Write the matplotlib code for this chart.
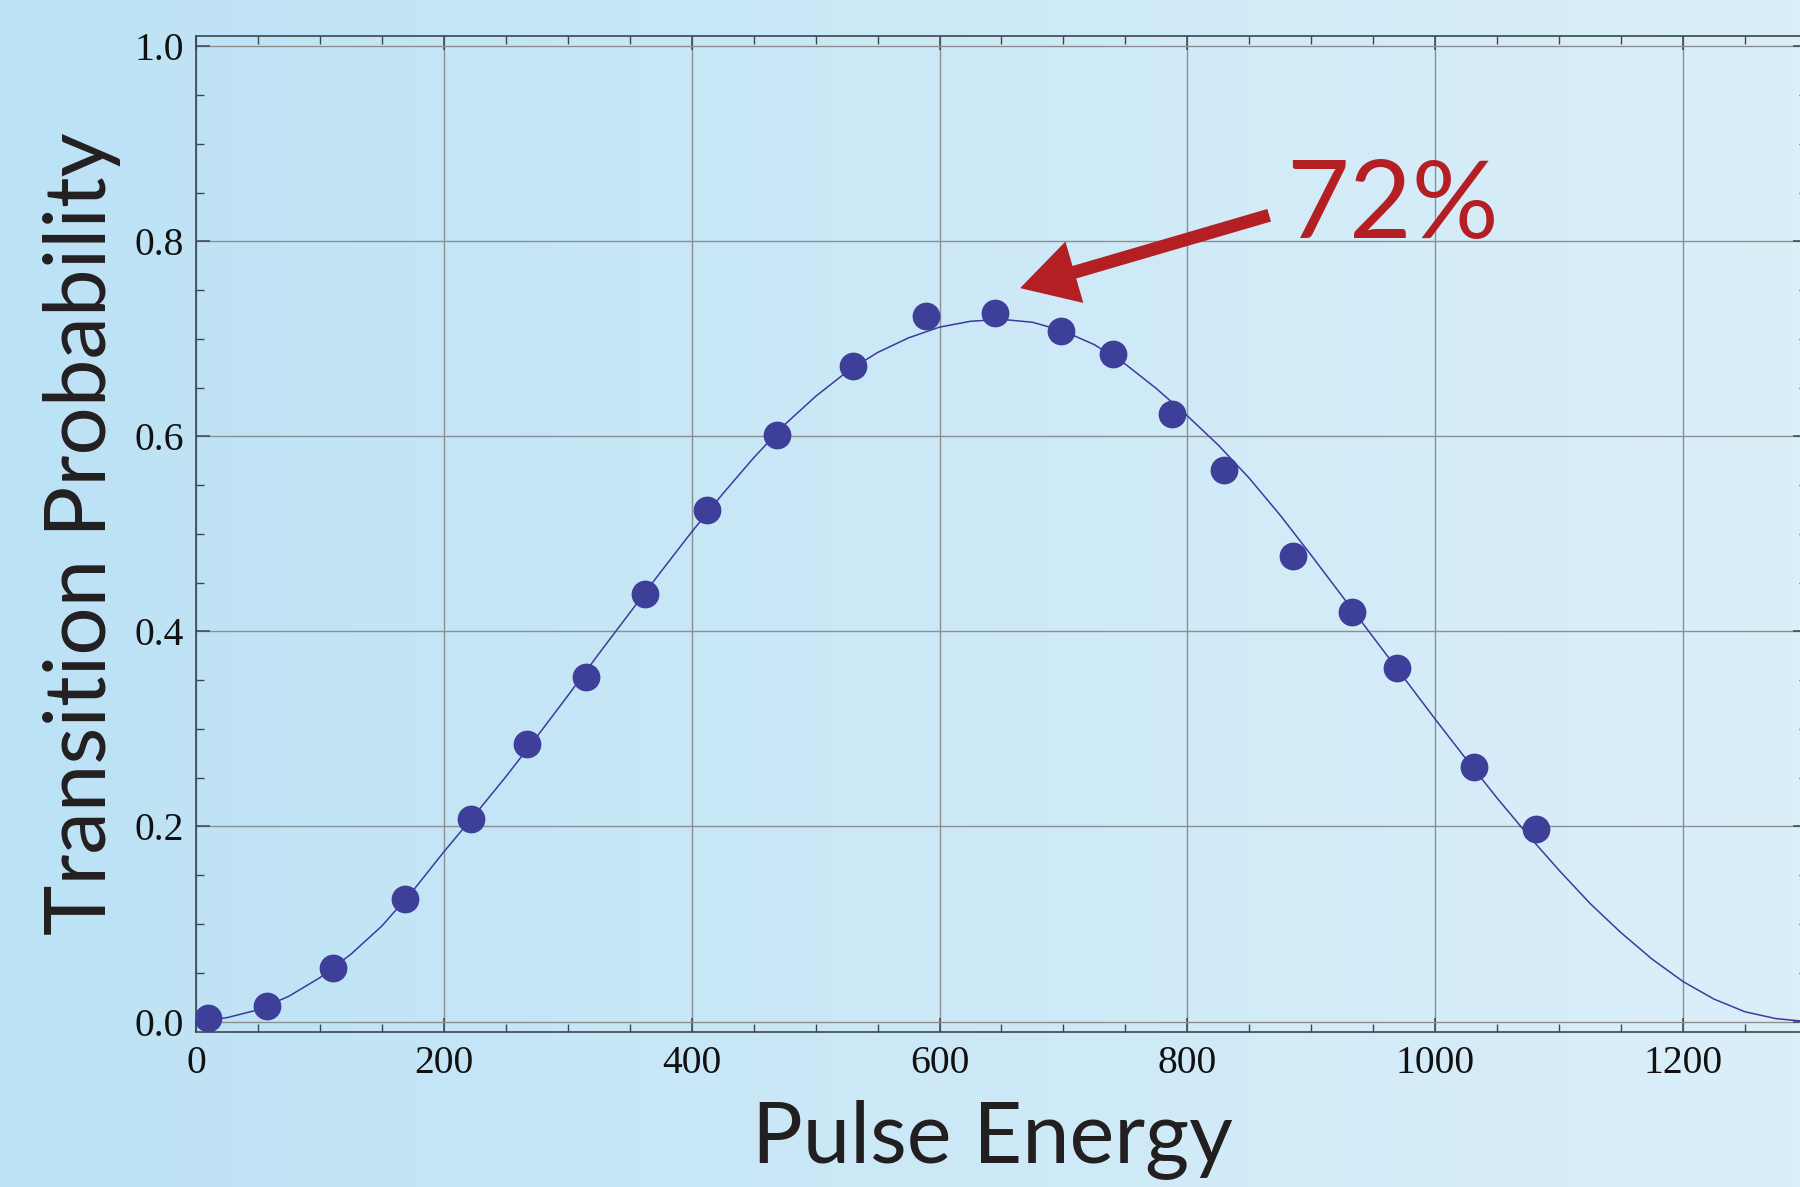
import numpy as np
import matplotlib
matplotlib.use("Agg")
import matplotlib.pyplot as plt
from matplotlib.ticker import MultipleLocator, FormatStrFormatter
from matplotlib.colors import LinearSegmentedColormap

# ---- data ----
energy = [10, 57, 110.5, 169, 222, 267, 315, 362, 412.5, 468.5, 530, 589,
          645, 698, 740, 787.5, 829.5, 885.5, 933, 969.5, 1031, 1081]
probability = [0.004, 0.016, 0.055, 0.126, 0.208, 0.285, 0.353, 0.438, 0.524,
               0.601, 0.672, 0.723, 0.726, 0.708, 0.684, 0.623, 0.566, 0.477,
               0.420, 0.363, 0.261, 0.197]

fit_energy = [0, 25, 50, 75, 100, 125, 150, 175, 200, 225, 250, 275, 300, 325,
              350, 375, 400, 425, 450, 475, 500, 525, 550, 575, 600, 625, 650,
              675, 700, 725, 750, 775, 800, 825, 850, 875, 900, 925, 950, 975,
              1000, 1025, 1050, 1075, 1100, 1125, 1150, 1175, 1200, 1225, 1250,
              1275, 1300]
fit_probability = [0.000, 0.004, 0.012, 0.026, 0.045, 0.069, 0.098, 0.134,
                   0.174, 0.212, 0.251, 0.292, 0.334, 0.377, 0.419, 0.461,
                   0.502, 0.541, 0.578, 0.612, 0.641, 0.666, 0.686, 0.701,
                   0.712, 0.718, 0.720, 0.717, 0.708, 0.694, 0.674, 0.649,
                   0.621, 0.591, 0.557, 0.519, 0.478, 0.436, 0.394, 0.352,
                   0.310, 0.269, 0.229, 0.191, 0.155, 0.121, 0.091, 0.064,
                   0.041, 0.023, 0.010, 0.003, 0.000]

x_ticks = [0, 200, 400, 600, 800, 1000, 1200]
y_ticks = [0.0, 0.2, 0.4, 0.6, 0.8, 1.0]

annot_text = "72%"
annot_tip = (665, 0.752)
annot_tail = (866, 0.8267)
annot_text_pos = (880, 0.8035)

# ---- figure ----
W, H = 1800, 1187
fig = plt.figure(figsize=(W / 100, H / 100), dpi=100)

# background gradient
bg = fig.add_axes([0, 0, 1, 1], zorder=-10)
cmap = LinearSegmentedColormap.from_list("bg", ["#bce2f5", "#dbeff9"])
grad = np.linspace(0, 1, 256)[None, :]
bg.imshow(grad, aspect="auto", cmap=cmap, extent=[0, 1, 0, 1])
bg.axis("off")

left_px, right_px, top_px, bottom_px = 196, 1807, 36, 1031.5
ax = fig.add_axes([left_px / W, 1 - bottom_px / H,
                   (right_px - left_px) / W, (bottom_px - top_px) / H])
ax.set_facecolor("none")

ax.set_xlim(0, 1300)
ax.set_ylim(-0.0102, 1.0105)

ax.grid(True, which="major", color="#8b8f92", lw=1.0, zorder=1)
ax.set_axisbelow(True)

line_col = "#3a3c9c"
ax.plot(fit_energy, fit_probability, color=line_col, lw=1.1, zorder=3,
        solid_joinstyle="round")
ax.plot(energy, probability, "o", color="#3d3f99", ms=20, mew=0, zorder=4)

ax.set_xticks(x_ticks)
ax.set_yticks(y_ticks)
ax.xaxis.set_minor_locator(MultipleLocator(50))
ax.yaxis.set_minor_locator(MultipleLocator(0.05))
ax.yaxis.set_major_formatter(FormatStrFormatter("%.1f"))

spine_col = "#3c464d"
for s in ax.spines.values():
    s.set_color(spine_col)
    s.set_linewidth(1.2)

ax.tick_params(which="both", direction="in", top=True, right=True,
               color=spine_col, labelcolor="#111111",
               labelsize=28.5, labelfontfamily="Liberation Serif")
ax.tick_params(which="major", length=10, width=1.1)
ax.tick_params(which="minor", length=5.8, width=1.0)
ax.tick_params(axis="y", pad=9)
ax.tick_params(axis="x", pad=10)

# axis labels
lab_col = "#231f20"
fig.text(992 / W, 1 - 1161.7 / H, "Pulse Energy", ha="center", va="baseline",
         fontsize=61, family="Lato", color=lab_col)
fig.text(106 / W, 1 - 534 / H, "Transition Probability", rotation=90,
         rotation_mode="anchor", ha="center", va="baseline",
         fontsize=61.5, family="Lato", color=lab_col)

# annotation
red = "#b41f24"
ax.annotate("", xy=annot_tip, xytext=annot_tail, xycoords="data",
            textcoords="data",
            arrowprops=dict(arrowstyle="simple,head_length=4.07,head_width=4.6,tail_width=0.94",
                            mutation_scale=10, color=red, lw=0,
                            shrinkA=0, shrinkB=0),
            zorder=5)
ax.text(annot_text_pos[0], annot_text_pos[1], annot_text, ha="left",
        va="baseline", fontsize=78, family="Lato", color=red, zorder=5)

fig.savefig("out.png", dpi=100)
